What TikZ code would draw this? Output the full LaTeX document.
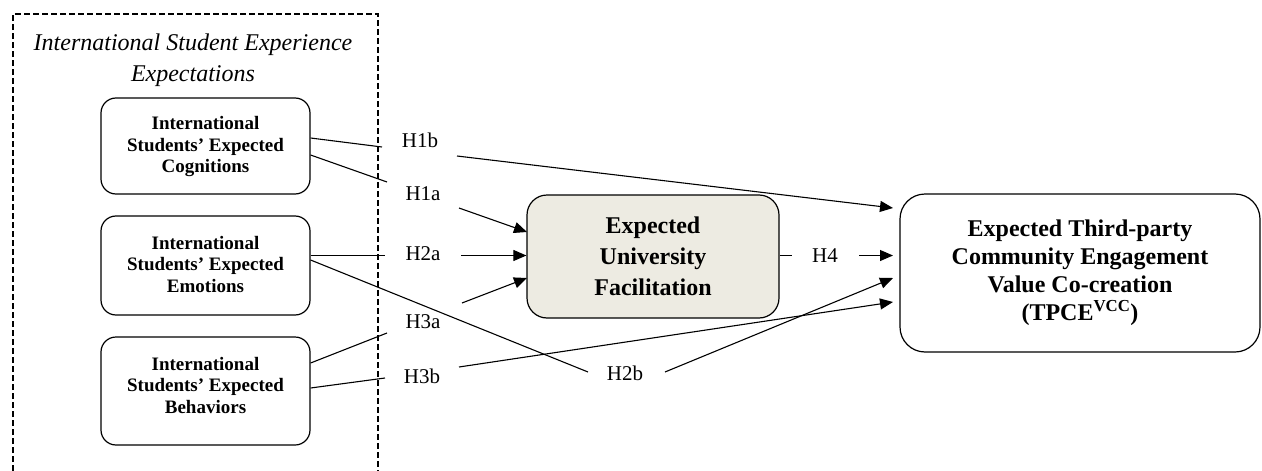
\documentclass[tikz,border=0pt]{standalone}
\usepackage{fontspec}
\setmainfont{Liberation Serif}
\usetikzlibrary{arrows.meta,calc}
\definecolor{midfill}{RGB}{237,235,226}
\begin{document}
\begin{tikzpicture}[x=1pt,y=-1pt,
  lbox/.style={draw,line width=1.2pt,rounded corners=15pt,minimum width=209pt,minimum height=96pt,inner sep=0pt},
  ltext/.style={font=\fontsize{19}{21.5}\selectfont\bfseries,align=center,inner sep=0pt},
  midbox/.style={draw,line width=1.2pt,fill=midfill,rounded corners=20pt,minimum width=252pt,minimum height=123pt,align=center,font=\fontsize{24}{31}\selectfont\bfseries,inner sep=0pt},
  rbox/.style={draw,line width=1.2pt,rounded corners=25pt,minimum width=360pt,minimum height=158pt,align=center,font=\fontsize{24}{28}\selectfont\bfseries,inner sep=0pt},
  hyp/.style={font=\fontsize{21}{24}\selectfont,inner sep=0pt},
  conn/.style={line width=1.1pt},
  arr/.style={line width=1.1pt,-{Triangle[length=13pt,width=11pt]}},
  frame/.style={line width=1.1pt,dash pattern=on 6pt off 3pt}
]
\useasboundingbox (0,0) rectangle (1262,471);

% dashed frame (open at bottom)
\draw[frame] (13,471) -- (13,14) -- (378,14) -- (378,471);
\node[font=\fontsize{24}{31}\selectfont\itshape,align=center] (title) at (193,60) {International Student Experience\\Expectations};

% left boxes
\node[lbox] (cog) at (205.5,146) {};
\node[ltext] at (205.5,147) {International\\Students’ Expected\\Cognitions};
\node[lbox,minimum height=99pt] (emo) at (205.5,265.5) {};
\node[ltext] at (205.5,264) {International\\Students’ Expected\\Emotions};
\node[lbox,minimum height=108pt] (beh) at (205.5,391) {};
\node[ltext] at (205.5,385) {International\\Students’ Expected\\Behaviors};

% middle and right boxes
\node[midbox] (mid) at (653,256.5) {Expected\\University\\Facilitation};
\node[rbox] (tp) at (1080,273) {Expected Third-party\\Community Engagement\\Value Co-creation\\(TPCE\textsuperscript{VCC})};

% hypothesis labels
\node[hyp] (h1b) at (420,140) {H1b};
\node[hyp] (h1a) at (423,194) {H1a};
\node[hyp] (h2a) at (423,254) {H2a};
\node[hyp] (h3a) at (423,322) {H3a};
\node[hyp] (h3b) at (422,376) {H3b};
\node[hyp] (h2b) at (625,373) {H2b};
\node[hyp] (h4) at (825,256) {H4};

% gap coordinates
\coordinate (h1bL) at (382,147); \coordinate (h1bR) at (457,156); \coordinate (t1b) at (893,208);
\coordinate (h1aL) at (387,182); \coordinate (h1aR) at (459,208); \coordinate (t1a) at (527,232);
\coordinate (h2aL) at (385,255.5); \coordinate (h2aR) at (461,255.5);
\coordinate (h2bL) at (588,372); \coordinate (h2bR) at (665,372); \coordinate (t2b) at (893,278);
\coordinate (h3aL) at (387,333); \coordinate (h3aR) at (462,303); \coordinate (t3a) at (527,278);
\coordinate (h3bL) at (385,378); \coordinate (h3bR) at (459,367); \coordinate (t3b) at (893,302);
\coordinate (h4L) at (792,255.5); \coordinate (h4R) at (859,255.5); \coordinate (t4) at (893,255.5);

% connectors
\draw[conn] ([yshift=8pt]cog.east) -- (h1bL);
\draw[arr] (h1bR) -- (t1b);
\draw[conn] ([yshift=-9pt]cog.east) -- (h1aL);
\draw[arr] (h1aR) -- (t1a);
\draw[conn] ([yshift=10pt]emo.east) -- (h2aL);
\draw[arr] (h2aR) -- (h2aR -| mid.west);
\draw[conn] ([yshift=5.5pt]emo.east) -- (h2bL);
\draw[arr] (h2bR) -- (t2b);
\draw[conn] ([yshift=28pt]beh.east) -- (h3aL);
\draw[arr] (h3aR) -- (t3a);
\draw[conn] ([yshift=3pt]beh.east) -- (h3bL);
\draw[arr] (h3bR) -- (t3b);
\draw[conn] (h4L -| mid.east) -- (h4L);
\draw[arr] (h4R) -- (t4);
\end{tikzpicture}
\end{document}
